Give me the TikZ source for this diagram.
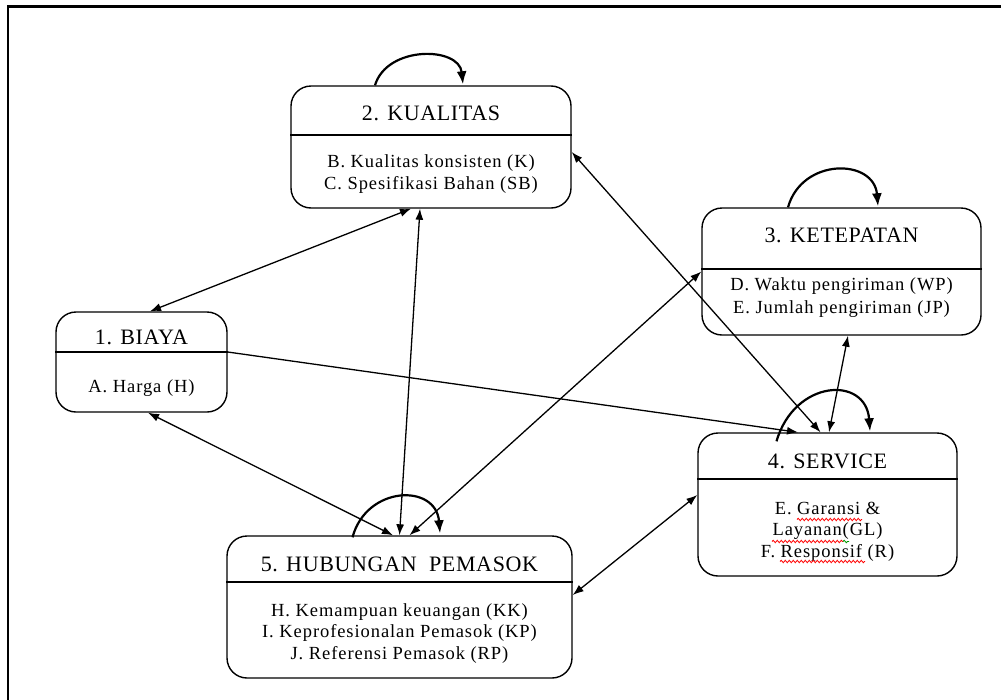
\documentclass[tikz,border=0pt]{standalone}
\usepackage{fontspec}
\setmainfont{Liberation Serif}
\newfontfamily\titlefont[LetterSpace=3]{Liberation Serif}
\newfontfamily\itemfont[LetterSpace=5]{Liberation Serif}
\usetikzlibrary{arrows.meta,calc,decorations.pathmorphing}
\tikzset{
  box/.style={draw, rounded corners=20pt, line width=1.4pt, inner sep=0pt},
  divline/.style={line width=1.3pt},
  ttl/.style={font=\titlefont\fontsize{22}{26}\selectfont, anchor=base, inner sep=0pt},
  itm/.style={font=\itemfont\fontsize{18.5}{21.5}\selectfont, align=center, anchor=base, inner sep=0pt},
  conn/.style={line width=1.3pt, <->, >={Latex[length=11pt,width=8pt]}},
  one/.style={line width=1.3pt, ->, >={Latex[length=11pt,width=8pt]}},
  selfloop/.style={line width=2.2pt, ->, >={Latex[length=13pt,width=10pt]}},
  frame/.style={line width=2.6pt},
  squig/.style={red, line width=0.8pt, decorate, decoration={snake, segment length=4pt, amplitude=1.2pt}},
  squiggreen/.style={squig, green!60!black}
}
\begin{document}
\begin{tikzpicture}[x=1pt,y=-1pt]
\useasboundingbox (0,0) rectangle (1001,699);
\fill[white] (0,0) rectangle (1001,699);
\draw[frame] (8,720) -- (8,6.5) -- (1020,6.5);

% boxes
\node[box, minimum width=280pt, minimum height=122pt] (kual) at (431,147) {};
\node[box, minimum width=279pt, minimum height=127pt] (ket) at (841.5,271.5) {};
\node[box, minimum width=171pt, minimum height=100pt] (biaya) at (141.5,362) {};
\node[box, minimum width=259pt, minimum height=143pt] (serv) at (827.5,504.5) {};
\node[box, minimum width=345pt, minimum height=142pt] (hub) at (399.5,607) {};

% dividers
\draw[divline] ($(kual.west)+(0,-12)$) -- ($(kual.east)+(0,-12)$);
\draw[divline] ($(ket.west)+(0,-2.5)$) -- ($(ket.east)+(0,-2.5)$);
\draw[divline] ($(biaya.west)+(0,-10)$) -- ($(biaya.east)+(0,-10)$);
\draw[divline] ($(serv.west)+(0,-25.5)$) -- ($(serv.east)+(0,-25.5)$);
\draw[divline] ($(hub.west)+(0,-25)$) -- ($(hub.east)+(0,-25)$);

% titles
\node[ttl] (kualt) at ($(kual.center)+(0,-27)$) {2. KUALITAS};
\node[ttl] (kett) at ($(ket.center)+(0,-29.5)$) {3. KETEPATAN};
\node[ttl] (biayat) at ($(biaya.center)+(0,-18)$) {1. BIAYA};
\node[ttl] (servt) at ($(serv.center)+(0,-36.5)$) {4. SERVICE};
\node[ttl] (hubt) at ($(hub.center)+(0,-36)$) {5. HUBUNGAN\ \ PEMASOK};

% items (base anchor = baseline of last line)
\node[itm] (kuali) at ($(kual.center)+(0,42)$) {B. Kualitas konsisten (K)\\C. Spesifikasi Bahan (SB)};
\node[itm, font=\itemfont\fontsize{18.5}{23}\selectfont] (keti) at ($(ket.center)+(0,41.5)$) {D. Waktu pengiriman (WP)\\E. Jumlah pengiriman (JP)};
\node[itm] (biayai) at ($(biaya.center)+(0,30)$) {A. Harga (H)};
\node[itm] (servi) at ($(serv.center)+(0,52.5)$) {E. Garansi \&\\Layanan(GL)\\F. Responsif (R)};
\node[itm] (hubi) at ($(hub.center)+(0,52)$) {H. Kemampuan keuangan (KK)\\I. Keprofesionalan Pemasok (KP)\\J. Referensi Pemasok (RP)};

% spell-check squiggles
\draw[squig] ($(serv.center)+(-30.5,15)$) -- ($(serv.center)+(34.5,15)$);
\draw[squig] ($(serv.center)+(-55.5,37)$) -- ($(serv.center)+(15.5,37)$);
\draw[squiggreen] ($(serv.center)+(15.5,37)$) -- ($(serv.center)+(21.5,37)$);
\draw[squig] ($(serv.center)+(-47.5,57)$) -- ($(serv.center)+(37.5,57)$);

% self loops
\draw[selfloop] ($(kual.north)+(-56,0)$) .. controls +(12,-40) and +(-4,-38) .. ($(kual.north)+(32,-1)$);
\draw[selfloop] ($(ket.north)+(-53.5,0)$) .. controls +(14,-50) and +(-4,-48) .. ($(ket.north)+(36.5,-1)$);
\draw[selfloop] ($(serv.north)+(-51,9)$) .. controls +(18,-62) and +(-4,-56) .. ($(serv.north)+(42.5,-1)$);
\draw[selfloop] ($(hub.north)+(-47,2)$) .. controls +(14,-52) and +(-4,-50) .. ($(hub.north)+(40.5,-2)$);

% connectors
\draw[conn] ($(kual.south)+(-20,0)$) -- ($(biaya.north)+(8.5,0)$);
\draw[conn] ($(kual.south)+(-11,0)$) -- ($(hub.north)+(0,0)$);
\draw[conn] ($(kual.east)+(0,5)$) -- ($(serv.north)+(-7,0)$);
\draw[conn] (ket.west) -- ($(hub.north)+(10,0)$);
\draw[conn] ($(ket.south)+(6.5,0)$) -- ($(serv.north)+(1.5,0)$);
\draw[one] ($(biaya.east)+(0,-10)$) -- ($(serv.north)+(-29.5,0)$);
\draw[conn] ($(biaya.south)+(6.5,0)$) -- ($(hub.north)+(-6.5,0)$);
\draw[conn] ($(hub.east)+(0,-12)$) -- ($(serv.west)+(0,-9.5)$);
\end{tikzpicture}
\end{document}
